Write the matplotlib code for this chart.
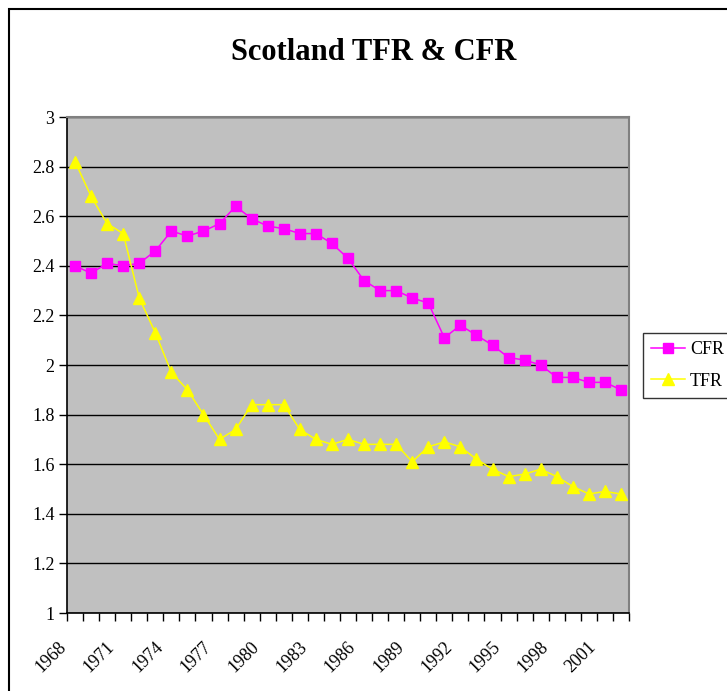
import matplotlib
matplotlib.use("Agg")
import matplotlib.pyplot as plt
from matplotlib.patches import Rectangle
from matplotlib.ticker import MultipleLocator, FixedLocator, FuncFormatter
from matplotlib.transforms import ScaledTranslation

years = list(range(1968, 2003))
cfr = [2.40, 2.37, 2.41, 2.40, 2.41, 2.46, 2.54, 2.52, 2.54, 2.57,
       2.64, 2.59, 2.56, 2.55, 2.53, 2.53, 2.49, 2.43, 2.34, 2.30,
       2.30, 2.27, 2.25, 2.11, 2.16, 2.12, 2.08, 2.03, 2.02, 2.00,
       1.95, 1.95, 1.93, 1.93, 1.90]
tfr = [2.82, 2.68, 2.57, 2.53, 2.27, 2.13, 1.97, 1.90, 1.80, 1.70,
       1.74, 1.84, 1.84, 1.84, 1.74, 1.70, 1.68, 1.70, 1.68, 1.68,
       1.68, 1.61, 1.67, 1.69, 1.67, 1.62, 1.58, 1.55, 1.56, 1.58,
       1.55, 1.51, 1.48, 1.49, 1.48]
label_years = years[::3]
title = "Scotland TFR & CFR"

plt.rcParams['font.family'] = ['Liberation Serif', 'DejaVu Serif']

W, H = 727, 691
fig = plt.figure(figsize=(W / 100, H / 100), dpi=100)
ax = fig.add_axes([67 / W, 1 - 613 / H, (629 - 67) / W, (613 - 117) / H])
ax.set_facecolor('#C0C0C0')

ax.plot(years, cfr, color='#FF00FF', marker='s', markersize=6.5, lw=1.1,
        label='CFR', zorder=3)
ax.plot(years, tfr, color='#FFFF00', marker='^', markersize=8, lw=1.1,
        label='TFR', zorder=3)

ax.set_xlim(years[0] - 0.5, years[-1] + 0.5)
ax.set_ylim(1, 3)
ax.yaxis.set_major_locator(MultipleLocator(0.2))
ax.yaxis.set_major_formatter(FuncFormatter(lambda v, p: f"{v:g}"))
ax.tick_params(axis='y', length=6, width=1, color='black', pad=3, labelsize=13)
ax.grid(axis='y', color='black', lw=1, zorder=1)
ax.set_axisbelow(True)

# x ticks: boundaries as minor ticks, labels at category centers
ax.xaxis.set_minor_locator(FixedLocator([y - 0.5 for y in years] + [years[-1] + 0.5]))
ax.xaxis.set_major_locator(FixedLocator(label_years))
ax.set_xticklabels([str(y) for y in label_years], rotation=45, ha='right',
                   va='top', rotation_mode='anchor', fontsize=13)
ax.tick_params(axis='x', which='major', length=0, pad=18)
ax.tick_params(axis='x', which='minor', length=6, width=1, color='black')
off = ScaledTranslation(-17 / 100, 0, fig.dpi_scale_trans)
for lab in ax.get_xticklabels():
    lab.set_transform(lab.get_transform() + off)

for s in ['top', 'right']:
    ax.spines[s].set_color('#808080')
    ax.spines[s].set_linewidth(1.5)
ax.spines['left'].set_color('black')
ax.spines['bottom'].set_color('black')
ax.spines['left'].set_linewidth(1.2)
ax.spines['bottom'].set_linewidth(1.2)

fig.text(374 / W, 1 - 53 / H, title, ha='center', va='center',
         fontsize=22, fontweight='bold')

leg = fig.legend(loc='upper left', bbox_to_anchor=(643 / W, 1 - 333 / H),
                 fontsize=13, frameon=True, fancybox=False, edgecolor='black',
                 borderpad=0.45, handlelength=1.9, labelspacing=0.8,
                 handletextpad=0.25, borderaxespad=0)
leg.get_frame().set_linewidth(1)

fig.patches.append(Rectangle((9 / W, -0.1), 2, 1 - 9 / H + 0.1,
                             transform=fig.transFigure, fill=False,
                             edgecolor='black', lw=1.5))

fig.savefig('out.png', dpi=100)
